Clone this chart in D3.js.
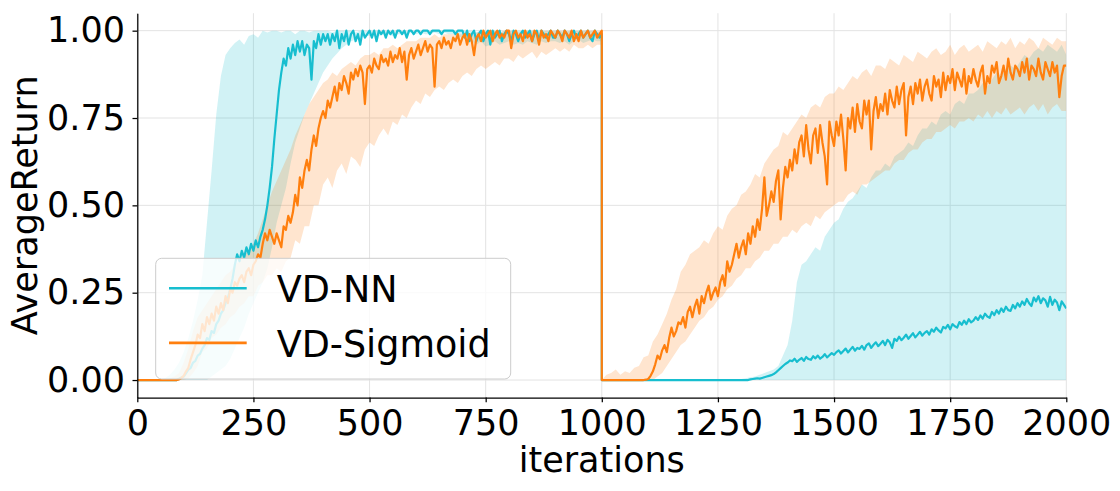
<!DOCTYPE html>
<html>
<head>
<meta charset="utf-8">
<script src="https://cdn.jsdelivr.net/npm/d3@7"></script>
<style>
body { margin: 0; background: #fff; }
svg text { font-family: "DejaVu Sans", sans-serif; fill: #000; }
</style>
</head>
<body>
<svg id="chart" width="1120" height="491"></svg>
<script>
// tick labels and series names
var xTicks = [0, 250, 500, 750, 1000, 1250, 1500, 1750, 2000];
var yTicks = [0, 0.25, 0.5, 0.75, 1];
var seriesNames = ["VD-NN", "VD-Sigmoid"];
var seriesColors = ["#17becf", "#ff7f0e"];

// mean curves, read every 5 iterations; phase A = 0..1000, phase B = 1000..2000
var nnMeanA = [
	0,0,0,0,0,0,0,0,0,0,0,0,0,0,0,0,0,0,0.004,0.007,
	0.01,0.02,0.03,0.035,0.05,0.055,0.07,0.075,0.09,0.1,0.12,0.115,0.14,0.135,0.16,0.17,0.19,0.2,0.22,0.235,
	0.26,0.29,0.33,0.36,0.34,0.37,0.35,0.38,0.36,0.39,0.37,0.4,0.38,0.41,0.43,0.46,0.5,0.55,0.61,0.69,
	0.76,0.83,0.88,0.92,0.9,0.95,0.92,0.96,0.93,0.97,0.94,0.97,0.93,0.96,0.95,0.86,0.97,0.95,0.99,0.96,
	0.99,0.97,0.99,0.96,0.99,0.97,1,0.95,0.99,0.97,1,0.96,0.99,1,0.97,0.99,0.96,1,0.98,0.99,
	1,0.98,1,0.97,1,0.99,1,0.98,1,0.99,1,0.98,1,1,0.99,1,0.98,1,1,0.99,
	1,1,0.99,1,1,1,0.99,1,1,1,1,0.99,1,1,1,1,1,0.99,1,1,
	1,0.98,1,0.97,0.99,1,0.97,0.99,1,0.97,0.99,1,0.96,1,0.98,0.99,1,0.97,0.99,1,
	0.99,0.97,1,0.99,0.97,0.99,1,0.98,0.99,1,0.97,0.99,1,0.97,1,0.99,0.98,0.99,1,0.98,
	0.98,1,0.99,0.98,1,0.99,0.97,0.99,1,0.98,0.99,1,0.98,0.99,1,0.98,0.97,1,0.99,0.98,
	0.99
];
var nnMeanB = [
	0,0,0,0,0,0,0,0,0,0,0,0,0,0,0,0,0,0,0,0,
	0,0,0,0,0,0,0,0,0,0,0,0,0,0,0,0,0,0,0,0,
	0,0,0,0,0,0,0,0,0,0,0,0,0,0,0,0,0,0,0,0,
	0,0,0,0,0.002,0.003,0.004,0.005,0.004,0.006,0.008,0.01,0.012,0.014,0.017,0.022,0.028,0.034,0.04,0.046,
	0.05,0.056,0.054,0.061,0.052,0.058,0.063,0.055,0.066,0.06,0.058,0.068,0.062,0.07,0.061,0.066,0.074,0.065,0.071,0.077,
	0.072,0.08,0.085,0.076,0.083,0.09,0.079,0.087,0.095,0.084,0.092,0.089,0.098,0.087,0.1,0.105,0.092,0.101,0.108,0.097,
	0.104,0.112,0.1,0.115,0.108,0.092,0.118,0.112,0.124,0.114,0.121,0.13,0.118,0.126,0.134,0.122,0.13,0.138,0.127,0.135,
	0.14,0.13,0.145,0.138,0.15,0.142,0.136,0.152,0.148,0.158,0.145,0.16,0.154,0.15,0.166,0.158,0.17,0.16,0.174,0.165,
	0.17,0.18,0.172,0.185,0.176,0.19,0.182,0.178,0.195,0.186,0.2,0.19,0.205,0.195,0.21,0.2,0.198,0.215,0.205,0.22,
	0.21,0.225,0.215,0.232,0.22,0.212,0.236,0.225,0.24,0.22,0.234,0.228,0.21,0.238,0.215,0.23,0.222,0.2,0.225,0.215,
	0.205
];
var sigMeanA = [
	0,0,0,0,0,0,0,0,0,0,0,0,0,0,0,0,0,0,0.002,0.006,
	0.012,0.025,0.035,0.06,0.08,0.1,0.13,0.12,0.16,0.14,0.18,0.16,0.19,0.17,0.21,0.19,0.22,0.2,0.24,0.22,
	0.26,0.25,0.28,0.27,0.29,0.3,0.28,0.31,0.32,0.3,0.33,0.34,0.36,0.35,0.39,0.42,0.4,0.43,0.41,0.39,
	0.42,0.4,0.38,0.44,0.43,0.47,0.45,0.48,0.53,0.5,0.58,0.55,0.6,0.63,0.6,0.66,0.7,0.67,0.72,0.75,
	0.77,0.75,0.8,0.78,0.81,0.84,0.8,0.85,0.83,0.87,0.85,0.82,0.88,0.86,0.89,0.87,0.9,0.88,0.79,0.89,
	0.9,0.88,0.92,0.9,0.89,0.93,0.91,0.92,0.9,0.94,0.91,0.93,0.92,0.95,0.91,0.94,0.86,0.93,0.95,0.92,
	0.94,0.96,0.93,0.95,0.97,0.94,0.96,0.95,0.84,0.96,0.97,0.95,0.98,0.96,0.97,0.95,0.98,0.97,0.99,0.96,
	0.98,0.99,0.96,0.99,0.97,0.93,0.98,0.99,0.97,1,0.98,0.99,1,0.97,0.99,1,0.98,0.99,0.98,1,
	1,0.95,0.99,1,0.98,0.99,0.97,1,0.98,0.99,0.97,1,0.99,0.96,1,0.98,0.99,0.97,1,0.99,
	0.98,1,0.99,0.97,1,0.99,0.98,1,0.97,0.99,0.97,1,0.98,0.99,1,0.98,0.99,1,0.98,0.99,
	1
];
var sigMeanB = [
	0,0,0,0,0,0,0,0,0,0,0,0,0,0,0,0,0,0,0,0.001,
	0.003,0.012,0.025,0.045,0.07,0.06,0.085,0.1,0.08,0.12,0.15,0.125,0.14,0.165,0.16,0.18,0.15,0.195,0.21,0.18,
	0.21,0.23,0.19,0.24,0.22,0.25,0.27,0.23,0.25,0.265,0.24,0.28,0.3,0.27,0.34,0.31,0.33,0.36,0.39,0.35,
	0.38,0.4,0.36,0.42,0.39,0.44,0.41,0.46,0.43,0.49,0.58,0.47,0.5,0.54,0.51,0.57,0.6,0.46,0.55,0.61,
	0.58,0.63,0.6,0.66,0.62,0.68,0.7,0.64,0.73,0.66,0.62,0.7,0.72,0.65,0.73,0.68,0.64,0.56,0.74,0.7,
	0.67,0.74,0.7,0.76,0.69,0.6,0.75,0.72,0.78,0.71,0.79,0.74,0.72,0.8,0.76,0.8,0.66,0.77,0.81,0.75,
	0.79,0.77,0.82,0.76,0.83,0.8,0.78,0.84,0.79,0.83,0.85,0.7,0.81,0.84,0.79,0.85,0.82,0.86,0.8,0.84,
	0.86,0.82,0.8,0.87,0.84,0.86,0.81,0.88,0.83,0.87,0.85,0.89,0.83,0.88,0.86,0.84,0.89,0.82,0.87,0.85,
	0.89,0.86,0.84,0.88,0.9,0.82,0.87,0.85,0.9,0.88,0.91,0.85,0.87,0.9,0.86,0.92,0.88,0.86,0.9,0.89,
	0.87,0.91,0.88,0.92,0.86,0.9,0.89,0.87,0.92,0.88,0.86,0.91,0.89,0.87,0.91,0.88,0.9,0.81,0.87,0.9,
	0.9
];

// shaded bands, read every 10 iterations
var nnLowA = [
	0,0,0,0,0,0,0,0,0,0,
	0,0,0,0,0,0,0.01,0.02,0.03,0.04,
	0.06,0.09,0.12,0.15,0.19,0.22,0.25,0.28,0.32,0.38,
	0.45,0.5,0.55,0.62,0.68,0.72,0.76,0.79,0.82,0.85,
	0.88,0.9,0.92,0.935,0.95,0.96,0.97,0.975,0.98,0.985,
	0.985,0.99,0.985,0.99,0.99,0.985,0.99,0.99,0.99,0.995,
	0.99,0.995,0.99,0.99,0.995,0.99,0.995,0.99,0.99,0.985,
	0.98,0.975,0.97,0.96,0.97,0.955,0.96,0.97,0.96,0.965,
	0.97,0.96,0.965,0.96,0.97,0.965,0.96,0.97,0.965,0.97,
	0.97,0.965,0.97,0.96,0.97,0.975,0.965,0.97,0.975,0.97,
	0.97
];
var nnHighA = [
	0,0,0,0,0,0,0.005,0.015,0.03,0.05,
	0.08,0.12,0.17,0.23,0.3,0.45,0.6,0.76,0.87,0.93,
	0.95,0.965,0.975,0.96,0.985,0.99,0.98,1,0.995,1,
	1,0.995,1,1,0.99,1,1,0.995,1,1,
	1,1,0.995,1,1,1,1,0.995,1,1,
	1,1,1,1,1,1,1,1,1,1,
	1,1,1,1,1,1,1,1,1,1,
	1,1,1,0.995,1,1,1,1,0.995,1,
	1,1,1,1,1,1,1,1,1,1,
	1,1,0.995,1,1,1,1,1,1,0.995,
	1
];
var sigLowA = [
	0,0,0,0,0,0,0,0,0,0,
	0,0.005,0.02,0.04,0.08,0.09,0.12,0.13,0.15,0.16,
	0.18,0.19,0.21,0.22,0.24,0.24,0.27,0.28,0.3,0.3,
	0.32,0.31,0.34,0.35,0.4,0.39,0.44,0.44,0.5,0.5,
	0.56,0.58,0.55,0.6,0.62,0.59,0.64,0.63,0.61,0.66,
	0.68,0.67,0.7,0.72,0.7,0.74,0.73,0.76,0.75,0.78,
	0.8,0.79,0.82,0.81,0.83,0.84,0.83,0.85,0.86,0.85,
	0.87,0.88,0.87,0.89,0.9,0.89,0.9,0.91,0.9,0.92,
	0.92,0.91,0.93,0.92,0.93,0.94,0.92,0.94,0.93,0.94,
	0.95,0.94,0.95,0.94,0.96,0.95,0.95,0.96,0.95,0.96,
	0.96
];
var sigHighA = [
	0,0,0,0,0,0,0,0.005,0.01,0.02,
	0.05,0.09,0.14,0.18,0.2,0.22,0.24,0.26,0.28,0.3,
	0.31,0.33,0.34,0.36,0.37,0.39,0.42,0.46,0.5,0.54,
	0.57,0.6,0.63,0.66,0.7,0.73,0.76,0.79,0.81,0.83,
	0.85,0.86,0.88,0.87,0.89,0.9,0.91,0.9,0.92,0.93,
	0.93,0.94,0.93,0.95,0.95,0.96,0.95,0.96,0.97,0.97,
	0.97,0.98,0.98,0.98,0.99,0.98,0.99,0.99,0.99,0.99,
	0.99,0.995,0.99,0.995,1,0.995,1,1,0.995,1,
	1,1,0.995,1,1,1,1,0.995,1,1,
	1,1,1,1,1,1,1,1,1,1,
	1
];
var nnLowB = [
	0,0,0,0,0,0,0,0,0,0,
	0,0,0,0,0,0,0,0,0,0,
	0,0,0,0,0,0,0,0,0,0,
	0,0,0,0,0,0,0,0,0,0,
	0,0,0,0,0,0,0,0,0,0,
	0,0,0,0,0,0,0,0,0,0,
	0,0,0,0,0,0,0,0,0,0,
	0,0,0,0,0,0,0,0,0,0,
	0,0,0,0,0,0,0,0,0,0,
	0,0,0,0,0,0,0,0,0,0,
	0
];
var nnHighB = [
	0,0,0,0,0,0,0,0,0,0,
	0,0,0,0,0,0,0,0,0,0,
	0,0,0,0,0,0,0,0,0.001,0.002,
	0.003,0.005,0.008,0.01,0.015,0.02,0.025,0.03,0.04,0.07,
	0.1,0.17,0.28,0.33,0.34,0.36,0.38,0.37,0.41,0.43,
	0.45,0.46,0.49,0.51,0.52,0.54,0.56,0.55,0.58,0.6,
	0.6,0.62,0.61,0.64,0.65,0.66,0.68,0.67,0.7,0.72,
	0.72,0.74,0.73,0.76,0.77,0.76,0.79,0.8,0.79,0.82,
	0.82,0.83,0.85,0.84,0.86,0.88,0.87,0.89,0.9,0.89,
	0.91,0.93,0.92,0.94,0.95,0.94,0.96,0.95,0.94,0.96,
	0.93
];
var sigLowB = [
	0,0,0,0,0,0,0,0,0,0,
	0,0,0.01,0.02,0.04,0.06,0.08,0.1,0.11,0.13,
	0.15,0.17,0.18,0.2,0.21,0.23,0.24,0.26,0.27,0.29,
	0.3,0.32,0.32,0.34,0.35,0.37,0.37,0.39,0.39,0.41,
	0.41,0.43,0.42,0.44,0.45,0.44,0.47,0.46,0.48,0.49,
	0.5,0.51,0.51,0.53,0.54,0.53,0.56,0.56,0.57,0.58,
	0.59,0.6,0.6,0.62,0.63,0.63,0.65,0.66,0.66,0.68,
	0.69,0.69,0.71,0.71,0.72,0.73,0.72,0.74,0.74,0.75,
	0.74,0.76,0.75,0.77,0.75,0.77,0.76,0.78,0.76,0.77,
	0.78,0.76,0.78,0.79,0.77,0.79,0.76,0.78,0.79,0.77,
	0.77
];
var sigHighB = [
	0,0.015,0.02,0.03,0.015,0.025,0.02,0.035,0.04,0.065,
	0.07,0.11,0.13,0.16,0.19,0.23,0.26,0.31,0.33,0.36,
	0.37,0.38,0.4,0.39,0.42,0.44,0.43,0.47,0.49,0.5,
	0.53,0.54,0.56,0.59,0.58,0.62,0.64,0.66,0.67,0.71,
	0.7,0.72,0.74,0.76,0.75,0.78,0.79,0.78,0.81,0.82,
	0.82,0.84,0.83,0.85,0.87,0.86,0.88,0.89,0.87,0.9,
	0.9,0.89,0.92,0.91,0.9,0.93,0.92,0.91,0.94,0.93,
	0.92,0.94,0.95,0.93,0.94,0.96,0.93,0.95,0.96,0.94,
	0.95,0.96,0.94,0.97,0.96,0.95,0.97,0.96,0.98,0.95,
	0.97,0.96,0.98,0.97,0.95,0.98,0.97,0.96,0.98,0.97,
	0.97
];

// iteration grids (phase A then phase B, both include 1000 so the drop is vertical)
var meanIters = d3.range(0, 1001, 5).concat(d3.range(1000, 2001, 5));
var bandIters = d3.range(0, 1001, 10).concat(d3.range(1000, 2001, 10));

var series = [
	{ name: seriesNames[0], color: seriesColors[0],
	  mean: nnMeanA.concat(nnMeanB), low: nnLowA.concat(nnLowB), high: nnHighA.concat(nnHighB) },
	{ name: seriesNames[1], color: seriesColors[1],
	  mean: sigMeanA.concat(sigMeanB), low: sigLowA.concat(sigLowB), high: sigHighA.concat(sigHighB) }
];

var PLOT_L = 137.3, PLOT_R = 1066.3, PLOT_T = 13.2, PLOT_B = 397.5;
var TICK_FONT = 35;

var svg = d3.select("#chart");
var x = d3.scaleLinear().domain([0, 2000]).range([PLOT_L, PLOT_R]);
var y = d3.scaleLinear().domain([-0.05, 1.05]).range([PLOT_B, PLOT_T]);

// grid
var grid = svg.append("g").attr("stroke", "#e3e3e3").attr("stroke-width", 1);
xTicks.forEach(function(t) {
	grid.append("line").attr("x1", x(t)).attr("x2", x(t)).attr("y1", PLOT_T).attr("y2", PLOT_B);
});
yTicks.forEach(function(t) {
	grid.append("line").attr("x1", PLOT_L).attr("x2", PLOT_R).attr("y1", y(t)).attr("y2", y(t));
});

svg.append("clipPath").attr("id", "plotClip").append("rect")
	.attr("x", PLOT_L).attr("y", PLOT_T).attr("width", PLOT_R - PLOT_L).attr("height", PLOT_B - PLOT_T);

var plot = svg.append("g").attr("clip-path", "url(#plotClip)");

var area = function(s) {
	return d3.area()
		.x(function(d, i) { return x(bandIters[i]); })
		.y0(function(d, i) { return y(s.low[i]); })
		.y1(function(d, i) { return y(s.high[i]); });
};
var line = d3.line()
	.x(function(d, i) { return x(meanIters[i]); })
	.y(function(d) { return y(d); });

// bands first, then lines on top
series.forEach(function(s) {
	plot.append("path")
		.attr("d", area(s)(s.low))
		.attr("fill", s.color)
		.attr("fill-opacity", 0.2)
		.attr("stroke", "none");
});
series.forEach(function(s) {
	plot.append("path")
		.attr("d", line(s.mean))
		.attr("fill", "none")
		.attr("stroke", s.color)
		.attr("stroke-width", 2.2)
		.attr("stroke-linejoin", "round");
});

// axes
var yAxis = d3.axisLeft(y).tickValues(yTicks).tickFormat(d3.format(".2f"))
	.tickSize(4.8).tickSizeOuter(0).tickPadding(7.5);
var xAxis = d3.axisBottom(x).tickValues(xTicks).tickFormat(d3.format("d"))
	.tickSize(4.8).tickSizeOuter(0).tickPadding(7.8);

var gy = svg.append("g").attr("transform", "translate(" + PLOT_L + ",0)").call(yAxis);
var gx = svg.append("g").attr("transform", "translate(0," + PLOT_B + ")").call(xAxis);
[gx, gy].forEach(function(g) {
	g.select(".domain").attr("stroke", "#000").attr("stroke-width", 1.25);
	g.selectAll(".tick line").attr("stroke", "#000").attr("stroke-width", 1.25);
	g.selectAll(".tick text")
		.attr("font-family", "DejaVu Sans")
		.attr("font-size", TICK_FONT)
		.attr("fill", "#000");
});

svg.append("text")
	.attr("x", (PLOT_L + PLOT_R) / 2)
	.attr("y", 472)
	.attr("text-anchor", "middle")
	.attr("font-size", TICK_FONT)
	.text("iterations");

svg.append("text")
	.attr("transform", "translate(36.5," + ((PLOT_T + PLOT_B) / 2) + ") rotate(-90)")
	.attr("text-anchor", "middle")
	.attr("font-size", TICK_FONT)
	.text("AverageReturn");

// legend
var legend = svg.append("g");
legend.append("rect")
	.attr("x", 155.7).attr("y", 258.3)
	.attr("width", 355).attr("height", 120.7)
	.attr("rx", 6).attr("ry", 6)
	.attr("fill", "#fff").attr("fill-opacity", 0.8)
	.attr("stroke", "#cccccc").attr("stroke-width", 1);

series.forEach(function(s, i) {
	var ly = 288.3 + i * 54.6;
	legend.append("line")
		.attr("x1", 169).attr("x2", 246.7)
		.attr("y1", ly).attr("y2", ly)
		.attr("stroke", s.color).attr("stroke-width", 2.6);
	legend.append("text")
		.attr("x", 276.7).attr("y", ly + 14)
		.attr("font-size", 36.5)
		.text(s.name);
});
</script>
</body>
</html>
